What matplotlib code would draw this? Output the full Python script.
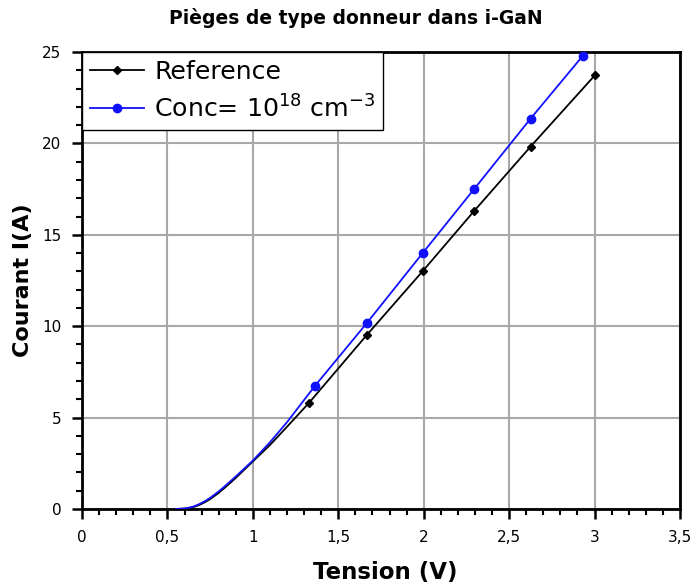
import matplotlib
matplotlib.use("Agg")
import matplotlib.pyplot as plt
from matplotlib.ticker import MultipleLocator, FixedLocator, FixedFormatter

# I-V characteristic, reference device
ref_v = [0.55, 0.60, 0.625, 0.65, 0.675, 0.70, 0.725, 0.75, 0.80, 0.85, 0.90, 1.00,
         1.10, 1.20, 1.328, 1.667, 1.993, 2.294, 2.625, 3.005]
ref_i = [0.0, 0.02, 0.05, 0.10, 0.18, 0.28, 0.40, 0.54, 0.88, 1.28, 1.70, 2.60,
         3.50, 4.50, 5.80, 9.52, 13.0, 16.29, 19.82, 23.76]
ref_marks = [14, 15, 16, 17, 18, 19]

# I-V characteristic with donor traps, 1e18 cm^-3
conc_v = [0.55, 0.60, 0.625, 0.65, 0.675, 0.70, 0.725, 0.75, 0.80, 0.85, 0.90, 1.00,
          1.10, 1.20, 1.363, 1.667, 1.993, 2.294, 2.625, 2.93]
conc_i = [0.0, 0.03, 0.07, 0.13, 0.22, 0.33, 0.46, 0.61, 0.96, 1.36, 1.78, 2.65,
          3.65, 4.75, 6.73, 10.17, 13.99, 17.49, 21.35, 24.78]
conc_marks = [14, 15, 16, 17, 18, 19]

x_ticks = [0, 0.5, 1, 1.5, 2, 2.5, 3, 3.5]
x_labels = ["0", "0,5", "1", "1,5", "2", "2,5", "3", "3,5"]
y_ticks = [0, 5, 10, 15, 20, 25]
y_labels = ["0", "5", "10", "15", "20", "25"]

plt.rcParams["font.family"] = ["DejaVu Sans"]

fig = plt.figure(figsize=(6.95, 5.88), dpi=100)
ax = fig.add_axes([82 / 695, 1 - 509 / 588, 598 / 695, 457 / 588])

ax.plot(ref_v, ref_i, color="black", lw=1.3, marker="D", ms=4.5,
        markevery=ref_marks, label="Reference", zorder=3)
ax.plot(conc_v, conc_i, color="#1010ff", lw=1.3, marker="o", ms=6,
        markevery=conc_marks, label=r"Conc= 10$^{18}$ cm$^{-3}$", zorder=3)

ax.set_xlim(0, 3.5)
ax.set_ylim(0, 25)
ax.xaxis.set_major_locator(FixedLocator(x_ticks))
ax.xaxis.set_major_formatter(FixedFormatter(x_labels))
ax.yaxis.set_major_locator(FixedLocator(y_ticks))
ax.yaxis.set_major_formatter(FixedFormatter(y_labels))
ax.xaxis.set_minor_locator(MultipleLocator(0.1))
ax.yaxis.set_minor_locator(MultipleLocator(1))

ax.grid(True, which="major", color="#a8a8a8", lw=1.5, zorder=0)
ax.set_axisbelow(True)
for s in ax.spines.values():
    s.set_linewidth(2)
ax.tick_params(which="major", direction="out", length=7, width=1.8,
               labelsize=11, pad=8)
ax.tick_params(which="minor", direction="out", length=4, width=1.5)

ax.set_xlabel("Tension (V)", fontsize=16.5, fontweight="bold")
ax.xaxis.set_label_coords((385.5 - 82) / 598, -(573 - 509) / 457)
ax.xaxis.label.set_va("center")
ax.set_ylabel("Courant I(A)", fontsize=16, fontweight="bold")
ax.yaxis.set_label_coords(-(82 - 23) / 598, 0.5)
ax.yaxis.label.set_va("center")
fig.text(356 / 695, 1 - 18 / 588, "Pièges de type donneur dans i-GaN",
         ha="center", va="center", fontsize=13.5, fontweight="bold")

leg = ax.legend(loc="upper left", bbox_to_anchor=(0, 1), borderaxespad=0,
                fontsize=18.2, frameon=True, fancybox=False, framealpha=1,
                edgecolor="black", handlelength=2.15, handletextpad=0.4,
                labelspacing=0.45, borderpad=0.3)
leg.get_frame().set_linewidth(1.0)

fig.savefig("out.png", dpi=100)
